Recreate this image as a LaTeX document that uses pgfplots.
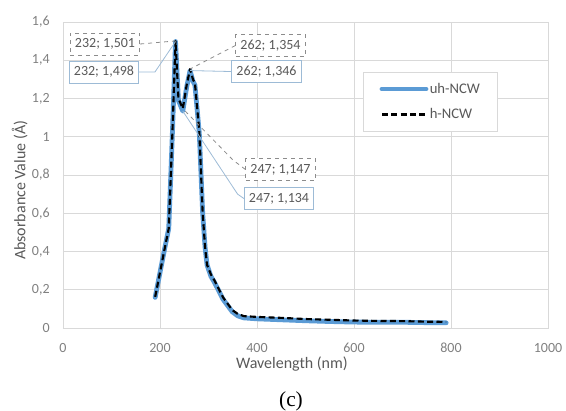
\documentclass[border=0pt]{standalone}
\usepackage{fontspec}
\setmainfont{Carlito}
\newfontfamily\timesfont{Liberation Serif}
\usepackage{pgfplots}
\pgfplotsset{compat=1.18}
\definecolor{gridgray}{HTML}{D9D9D9}
\definecolor{ticktext}{HTML}{808080}
\definecolor{labeltext}{HTML}{595959}
\definecolor{uhblue}{HTML}{5B9BD5}
\definecolor{leadblue}{HTML}{9DBBD6}
\definecolor{boxgray}{HTML}{8C8C8C}

% h-NCW (dashed) and uh-NCW (solid) absorbance spectra
\pgfplotstableread{
nm   a
190  0.163
200  0.29
210  0.42
218  0.52
222  0.78
226  1.05
232  1.501
238  1.20
247  1.147
255  1.27
262  1.354
268  1.30
272  1.28
281  1.03
288  0.60
293  0.42
297  0.33
305  0.28
312  0.25
330  0.16
349  0.094
360  0.074
373  0.062
400  0.058
450  0.053
500  0.047
550  0.043
600  0.039
650  0.037
700  0.036
750  0.033
790  0.032
}\hncw

\pgfplotstableread{
nm   a
190  0.160
200  0.29
210  0.42
218  0.52
222  0.78
226  1.05
232  1.498
238  1.19
247  1.134
255  1.26
262  1.346
268  1.29
272  1.27
281  1.02
288  0.60
293  0.42
297  0.33
305  0.27
312  0.24
330  0.15
349  0.085
360  0.064
373  0.053
400  0.048
450  0.043
500  0.038
550  0.034
600  0.031
650  0.030
700  0.030
750  0.028
790  0.027
}\uhncw

\tikzset{
  dbox/.style={draw=boxgray, dashed, fill=white, text=labeltext, font=\fontsize{10.5}{12}\selectfont,
               inner xsep=3.5pt, minimum height=16.5pt, line width=0.6pt},
  sbox/.style={draw=leadblue, fill=white, text=labeltext, font=\fontsize{10.5}{12}\selectfont,
               inner xsep=3.5pt, minimum height=16.5pt, line width=0.6pt},
  dlead/.style={draw=boxgray, dashed, line width=0.6pt},
  slead/.style={draw=leadblue, line width=0.6pt},
}

\begin{document}
\begin{tikzpicture}
\useasboundingbox (-47.25pt,-61.5pt) rectangle (377.25pt,246pt);
\begin{axis}[
  scale only axis, width=363.75pt, height=229.5pt,
  xmin=0, xmax=1000, ymin=0, ymax=1.6,
  xtick={0,200,400,600,800,1000},
  ytick={0,0.2,0.4,0.6,0.8,1,1.2,1.4,1.6},
  grid=major, grid style={gridgray, line width=0.6pt},
  axis line style={gridgray, line width=0.6pt},
  major tick length=0pt,
  tick label style={ticktext, font=\fontsize{10.5}{12}\selectfont},
  xticklabel style={anchor=center, yshift=-15pt},
  yticklabel style={xshift=-6.5pt},
  /pgf/number format/use comma,
  /pgf/number format/1000 sep={},
  /pgf/number format/assume math mode=true,
  xlabel={Wavelength (nm)}, ylabel={Absorbance Value (Å)},
  label style={labeltext, font=\fontsize{12}{14}\selectfont},
  xlabel style={at={(axis description cs:0.472,-0.1176)}, anchor=center},
  ylabel style={at={(axis description cs:-0.0894,0.45)}, anchor=center},
  legend style={at={(rel axis cs:0.619,0.837)}, anchor=north west,
                draw=gridgray, line width=0.6pt, text=labeltext,
                font=\fontsize{11}{13}\selectfont,
                inner xsep=12pt, inner ysep=6pt, row sep=6pt,
                nodes={inner xsep=1pt}},
  legend cell align=left,
  legend image code/.code={\draw[#1] (0pt,0pt) -- (33pt,0pt);},
  clip=false,
]
\addplot[uhblue, line width=3.6pt, line join=round, line cap=round] table[x=nm, y=a] {\uhncw};
\addlegendentry{uh-NCW}
\addplot[black, line width=1.6pt, dash pattern=on 4.5pt off 2.5pt, line join=round] table[x=nm, y=a] {\hncw};
\addlegendentry{h-NCW}

% data labels
\node[dbox] (b1) at (axis cs:86.6,1.485) {232; 1,501};
\node[sbox] (b2) at (axis cs:84.5,1.339) {232; 1,498};
\node[dbox] (b3) at (axis cs:427.8,1.477) {262; 1,354};
\node[sbox] (b4) at (axis cs:419.6,1.341) {262; 1,346};
\node[dbox] (b5) at (axis cs:448.5,0.829) {247; 1,147};
\node[sbox] (b6) at (axis cs:445.4,0.677) {247; 1,134};
\draw[dlead] (b1.east) -- (axis cs:232,1.501);
\draw[slead] (b2.east) -- (axis cs:189.7,1.339) -- (axis cs:232,1.498);
\draw[dlead] (b3.west) -- (axis cs:262,1.354);
\draw[slead] (b4.west) -- (axis cs:262,1.346);
\draw[dlead] (b5.west) -- (axis cs:350.5,0.878) -- (axis cs:247,1.147);
\draw[slead] (b6.west) -- (axis cs:360,0.70) -- (axis cs:247,1.134);
\end{axis}
\node[font=\timesfont\fontsize{16}{18}\selectfont] at (171pt,-54.75pt) {(c)};
\end{tikzpicture}
\end{document}
